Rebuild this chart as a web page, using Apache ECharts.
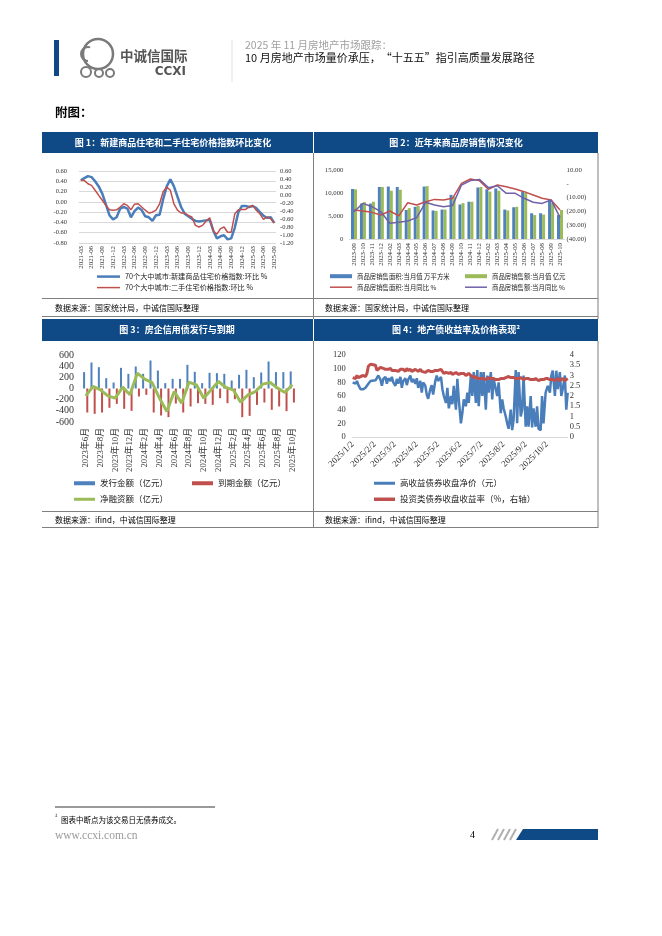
<!DOCTYPE html>
<html><head><meta charset="utf-8">
<script src="https://cdn.jsdelivr.net/npm/echarts@6/dist/echarts.min.js"></script>
<style>html,body{margin:0;padding:0;background:#fff}#c{width:662px;height:936px}</style>
</head><body><div id="c"></div>
<script>
// ---------- Chart 1 data ----------
const c1Months = ['2021-03','2021-04','2021-05','2021-06','2021-07','2021-08','2021-09','2021-10','2021-11','2021-12',
'2022-01','2022-02','2022-03','2022-04','2022-05','2022-06','2022-07','2022-08','2022-09','2022-10','2022-11','2022-12',
'2023-01','2023-02','2023-03','2023-04','2023-05','2023-06','2023-07','2023-08','2023-09','2023-10','2023-11','2023-12',
'2024-01','2024-02','2024-03','2024-04','2024-05','2024-06','2024-07','2024-08','2024-09','2024-10','2024-11','2024-12',
'2025-01','2025-02','2025-03','2025-04','2025-05','2025-06','2025-07','2025-08','2025-09'];
const c1New = [0.42,0.46,0.50,0.48,0.40,0.30,0.16,-0.05,-0.26,-0.34,
-0.30,-0.13,-0.10,-0.13,-0.30,-0.18,-0.11,-0.16,-0.28,-0.30,-0.37,-0.26,
-0.25,0.05,0.30,0.44,0.30,0.10,-0.10,-0.23,-0.28,-0.33,-0.37,-0.38,
-0.37,-0.36,-0.35,-0.56,-0.71,-0.67,-0.65,-0.73,-0.71,-0.50,-0.20,-0.08,
-0.08,-0.10,-0.08,-0.12,-0.20,-0.27,-0.31,-0.30,-0.41];
const c1Old = [0.37,0.36,0.28,0.24,0.12,-0.01,-0.13,-0.26,-0.37,-0.38,
-0.37,-0.30,-0.22,-0.26,-0.37,-0.23,-0.22,-0.30,-0.38,-0.45,-0.43,-0.38,
-0.22,0.08,0.20,0.12,-0.22,-0.38,-0.45,-0.45,-0.51,-0.55,-0.76,-0.80,
-0.76,-0.65,-0.57,-0.90,-0.98,-0.84,-0.80,-0.93,-0.93,-0.47,-0.37,-0.36,
-0.36,-0.30,-0.26,-0.38,-0.47,-0.61,-0.55,-0.59,-0.70];
const c1Names = ['70个大中城市:新建商品住宅价格指数:环比 %','70个大中城市:二手住宅价格指数:环比 %'];

// ---------- Chart 2 data ----------
const c2Months = ['2023-09','2023-10','2023-11','2023-12','2024-02','2024-03','2024-04','2024-05','2024-06','2024-07','2024-08','2024-09',
'2024-10','2024-11','2024-12','2025-02','2025-03','2025-04','2025-05','2025-06','2025-07','2025-08','2025-09','2025-10'];
const c2Area = [10875,7700,7700,11300,11400,11300,6300,7000,11400,6200,6400,9600,7500,8100,11200,10800,11000,6400,6900,10300,5600,5600,8600,5200];
const c2Sales = [10800,8000,8100,11300,10500,10700,6700,7200,11500,6100,6400,9200,7800,8100,11300,10300,10500,6200,7000,10000,5200,5300,7800,6300];
const c2AreaYoy = [-19.0,-19.7,-20.7,-22.6,-19.7,-23.3,-13.7,-15.4,-13.0,-11.3,-11.7,-10.5,0.3,3.5,2.3,-4.0,-0.9,-2.1,-3.8,-5.7,-8.1,-10.5,-11.7,-19.0];
const c2SalesYoy = [-20.2,-14.2,-16.6,-20.2,-28.6,-27.9,-27.0,-24.5,-13.4,-15.4,-16.6,-15.8,-0.9,2.3,3.2,-2.8,-1.4,-6.9,-6.9,-10.5,-13.4,-14.2,-11.7,-24.3];
const c2Names = ['商品房销售面积:当月值 万平方米','商品房销售额:当月值 亿元','商品房销售面积:当月同比 %','商品房销售额:当月同比 %'];

// ---------- Chart 3 data ----------
const c3Months = ['2023年6月','2023年7月','2023年8月','2023年9月','2023年10月','2023年11月','2023年12月',
'2024年1月','2024年2月','2024年3月','2024年4月','2024年5月','2024年6月','2024年7月','2024年8月','2024年9月','2024年10月','2024年11月','2024年12月',
'2025年1月','2025年2月','2025年3月','2025年4月','2025年5月','2025年6月','2025年7月','2025年8月','2025年9月','2025年10月'];
const c3Issue = [293,466,382,185,107,370,263,394,263,501,322,96,173,173,424,299,96,281,275,263,143,245,334,203,287,484,293,293,305];
const c3Mature = [-430,-454,-430,-346,-275,-364,-400,-143,-113,-430,-484,-513,-269,-430,-322,-263,-275,-293,-173,-263,-191,-513,-490,-293,-251,-382,-322,-406,-251];
const c3Net = [-131,36,-24,-131,-173,24,-113,275,167,107,-173,-412,-54,-263,113,66,-173,-24,125,18,-24,-245,-113,-54,78,107,6,-72,66];
const c3Names = ['发行金额（亿元）','到期金额（亿元）','净融资额（亿元）'];

// ---------- Chart 4 data ----------
const c4Year = 2025;
const c4Dates = ['1/2','1/3','1/6','1/8','1/10','1/13','1/15','1/17','1/20','1/22','1/24','1/27',
'2/3','2/5','2/7','2/10','2/12','2/14','2/17','2/19','2/21','2/24','2/26','2/28',
'3/3','3/5','3/7','3/10','3/12','3/14','3/17','3/19','3/21','3/24','3/26','3/28','3/31',
'4/2','4/4','4/7','4/9','4/11','4/14','4/16','4/18','4/21','4/23','4/25','4/28','4/30',
'5/2','5/6','5/8','5/10','5/13','5/15','5/17','5/20','5/22','5/24','5/27','5/29','5/31',
'6/3','6/5','6/7','6/10','6/12','6/14','6/17','6/19','6/21','6/24','6/26','6/28',
'7/1','7/3','7/5','7/8','7/10','7/12','7/15','7/17','7/19','7/22','7/24','7/26','7/29','7/31',
'8/2','8/5','8/7','8/9','8/12','8/14','8/16','8/19','8/21','8/23','8/26','8/28','8/30',
'9/2','9/4','9/6','9/9','9/11','9/13','9/16','9/18','9/20','9/23','9/25','9/27','9/30',
'10/3','10/6','10/8','10/10','10/13','10/15','10/17','10/20','10/22','10/24','10/27','10/29','10/31'];
const c4Price = [80,82,78,82,76,70,72,70,72,75,78,82,
83,84,90,84,75,85,88,78,86,82,88,80,
75,85,78,88,72,82,86,76,84,90,80,85,78,
86,72,82,65,80,75,62,56,70,76,62,82,90,
82,88,70,60,50,72,42,60,48,75,40,85,55,
20,35,55,45,65,50,90,60,95,50,98,45,
95,60,95,40,90,65,95,55,85,70,60,80,35,55,
42,30,20,12,40,10,25,98,20,95,30,40,90,
15,45,15,60,14,42,15,45,12,10,60,20,65,
75,65,90,97,60,97,70,95,60,70,90,40,65];
const c4Yield = [2.9,2.95,2.85,3.0,2.9,2.95,2.9,3.0,2.95,3.1,3.45,3.55,
3.5,3.25,3.3,3.4,3.45,3.35,3.3,3.25,3.3,3.35,3.25,3.3,
3.25,3.3,3.2,3.3,3.25,3.3,3.2,3.35,3.25,3.3,3.2,3.25,3.3,
3.25,3.2,3.3,3.2,3.25,3.15,3.2,3.25,3.2,3.15,3.2,3.25,3.2,
3.25,3.3,3.2,3.1,3.15,3.2,3.1,3.15,3.05,3.1,3.15,3.1,3.05,
3.1,3.05,3.1,3.0,3.05,3.1,3.0,2.95,2.9,2.95,2.85,2.9,
2.85,2.9,2.85,2.8,2.85,2.9,2.85,2.8,2.85,2.8,2.85,2.8,2.85,2.8,
2.85,2.9,2.85,2.95,2.9,2.85,2.9,2.85,2.8,2.85,2.9,2.85,2.8,
2.85,2.8,2.85,2.8,2.75,2.8,2.85,2.8,2.75,2.8,2.85,2.8,2.85,
2.85,2.8,2.85,2.8,2.75,2.8,2.85,2.75,2.8,2.85,2.75,2.8,2.85];
const c4TickDates = ['1/2','2/2','3/2','4/2','5/2','6/2','7/2','8/2','9/2','10/2'];
const c4Range = ['1/2','10/31'];
const c4Names = ['高收益债券收盘净价（元）','投资类债券收盘收益率（%，右轴）'];

// ---------- helpers ----------
const SERIF = '"Liberation Serif","Noto Sans CJK SC",serif';
const CJK = '"Noto Sans CJK SC","Noto Sans",sans-serif';
const DAY = 86400000;
function dnum(md){ const p = md.split('/'); return Math.round((Date.UTC(c4Year, +p[0]-1, +p[1]) - Date.UTC(c4Year,0,1)) / DAY); }
function dlabel(n){ const d = new Date(Date.UTC(c4Year,0,1) + n*DAY); return d.getUTCFullYear()+'/'+(d.getUTCMonth()+1)+'/'+d.getUTCDate(); }
const BAND = '#0f4a86';
const BLUE = '#4a7ebb', RED = '#c0504d', GREEN = '#9bbb59', PURPLE = '#7060a8';

function legend(name, left, top, w, h, fs){
  return {data:[{name:name, icon:'rect'}], left:left, top:top, itemWidth:w, itemHeight:h, padding:0,
    selectedMode:false, textStyle:{fontSize:fs, fontFamily:CJK, color:'#222'}};
}
function txt(t, x, y, size, opts){
  opts = opts || {};
  return {type:'text', silent:true, style:{text:t, x:x, y:y,
    font:(opts.weight||'normal')+' '+size+'px '+(opts.family||CJK),
    fill:opts.fill||'#000', textAlign:opts.align||'left', textVerticalAlign:'middle'}};
}
function line(x1,y1,x2,y2,color,w){ return {type:'line', silent:true, shape:{x1:x1,y1:y1,x2:x2,y2:y2}, style:{stroke:color||'#7f7f7f', lineWidth:w||1}}; }

const chart = echarts.init(document.getElementById('c'), null, {renderer:'canvas'});

const graphics = [
  {type:'rect', silent:true, shape:{x:54, y:40, width:5, height:36}, style:{fill:BAND}},
  // simplified elephant logo
  {type:'circle', silent:true, shape:{cx:98, cy:54, r:15}, style:{fill:'none', stroke:'#7a7a7a', lineWidth:2.5}},
  {type:'arc', silent:true, shape:{cx:88, cy:54, r:7, startAngle:Math.PI*0.5, endAngle:Math.PI*1.6}, style:{fill:'none', stroke:'#7a7a7a', lineWidth:2}},
  {type:'circle', silent:true, shape:{cx:86, cy:72, r:5}, style:{fill:'none', stroke:'#7a7a7a', lineWidth:2}},
  {type:'circle', silent:true, shape:{cx:99, cy:73, r:4}, style:{fill:'none', stroke:'#7a7a7a', lineWidth:2}},
  {type:'circle', silent:true, shape:{cx:110, cy:73, r:4}, style:{fill:'none', stroke:'#7a7a7a', lineWidth:2}},
  txt('中诚信国际', 120, 56, 13.5, {weight:'bold', fill:'#555'}),
  txt('CCXI', 186, 72, 12, {weight:'bold', fill:'#555', align:'right', family:'"DejaVu Sans",sans-serif'}),
  line(232, 40, 232, 82, '#e0e0e0', 1),
  txt('2025 年 11 月房地产市场跟踪：', 245, 45, 10.5, {fill:'#a0a0a0'}),
  txt('10 月房地产市场量价承压，“十五五”指引高质量发展路径', 245, 58, 11, {fill:'#111'}),
  txt('附图：', 55, 112, 12.5, {weight:'bold'}),
  {type:'rect', silent:true, shape:{x:42, y:132, width:271, height:21}, style:{fill:BAND}},
  {type:'rect', silent:true, shape:{x:314, y:132, width:284, height:21}, style:{fill:BAND}},
  txt('图 1：新建商品住宅和二手住宅价格指数环比变化', 173, 143, 9, {weight:'bold', fill:'#fff', align:'center'}),
  txt('图 2：近年来商品房销售情况变化', 456, 143, 9, {weight:'bold', fill:'#fff', align:'center'}),
  {type:'rect', silent:true, shape:{x:42, y:319, width:271, height:22}, style:{fill:BAND}},
  {type:'rect', silent:true, shape:{x:314, y:319, width:284, height:22}, style:{fill:BAND}},
  txt('图 3：房企信用债发行与到期', 177, 330, 9, {weight:'bold', fill:'#fff', align:'center'}),
  txt('图 4：地产债收益率及价格表现²', 456, 330, 9, {weight:'bold', fill:'#fff', align:'center'}),
  line(313.5, 153, 313.5, 319, '#7f7f7f', 1),
  line(313.5, 341, 313.5, 528, '#7f7f7f', 1),
  line(598, 153, 598, 319, '#7f7f7f', 1),
  line(598, 341, 598, 528, '#7f7f7f', 1),
  line(42, 298.5, 598, 298.5, '#7f7f7f', 1),
  line(42, 316.5, 598, 316.5, '#7f7f7f', 1),
  line(42, 511.5, 598, 511.5, '#7f7f7f', 1),
  line(42, 527.5, 598, 527.5, '#7f7f7f', 1),
  txt('数据来源：国家统计局，中诚信国际整理', 55, 307.5, 8),
  txt('数据来源：国家统计局，中诚信国际整理', 325, 307.5, 8),
  txt('数据来源：ifind，中诚信国际整理', 55, 519.5, 8),
  txt('数据来源：ifind，中诚信国际整理', 325, 519.5, 8),
  line(55, 807, 215, 807, '#000', 0.8),
  txt('²', 55, 817, 6),
  txt('图表中断点为该交易日无债券成交。', 61, 820, 7.5),
  txt('www.ccxi.com.cn', 55, 836, 11.5, {fill:'#9a9a9a', family:SERIF}),
  txt('4', 470, 835, 10, {family:SERIF}),
  line(492, 840, 498, 829, '#b0b0b0', 2),
  line(498, 840, 504, 829, '#b0b0b0', 2),
  line(504, 840, 510, 829, '#b0b0b0', 2),
  line(510, 840, 516, 829, '#b0b0b0', 2),
  {type:'polygon', silent:true, shape:{points:[[516,840],[523,829],[598,829],[598,840]]}, style:{fill:BAND}}
];

const axisLab = (fs, fam) => ({fontSize:fs, fontFamily:fam||SERIF, color:'#333'});
const noLine = {show:false};

const option = {
  animation:false,
  backgroundColor:'#fff',
  grid:[
    {left:79, top:171, width:197, height:72},
    {left:349.5, top:170, width:215, height:69},
    {left:82, top:355, width:214, height:67},
    {left:352.7, top:355, width:215, height:82}
  ],
  xAxis:[
    {type:'category', gridIndex:0, data:c1Months, boundaryGap:true,
      axisLine:{lineStyle:{color:'#d9d9d9'}}, axisTick:{show:false},
      axisLabel:Object.assign({rotate:90, interval:2, margin:3}, axisLab(6.8))},
    {type:'category', gridIndex:1, data:c2Months, boundaryGap:true,
      axisLine:{lineStyle:{color:'#d9d9d9'}}, axisTick:{show:false},
      axisLabel:Object.assign({rotate:90, interval:0, margin:4}, axisLab(6.8))},
    {type:'category', gridIndex:2, data:c3Months, boundaryGap:true,
      axisLine:noLine, axisTick:{show:false},
      axisLabel:Object.assign({rotate:90, interval:1, margin:6}, axisLab(8.8))},
    {type:'value', gridIndex:3, min:dnum(c4Range[0]), max:dnum(c4Range[1]),
      axisLine:{lineStyle:{color:'#d9d9d9'}}, axisTick:{show:false}, splitLine:{show:false},
      axisLabel:Object.assign({rotate:45, margin:6, customValues:c4TickDates.map(dnum), hideOverlap:false,
        formatter:function(v){return dlabel(v);}}, axisLab(9))}
  ],
  yAxis:[
    {type:'value', gridIndex:0, min:-0.8, max:0.6, interval:0.2, axisLine:noLine, axisTick:noLine,
      splitLine:{lineStyle:{color:'#d9d9d9'}},
      axisLabel:Object.assign({margin:12, formatter:v=>v.toFixed(2)}, axisLab(6.5))},
    {type:'value', gridIndex:0, min:-1.2, max:0.6, interval:0.2, axisLine:noLine, axisTick:noLine,
      splitLine:{show:false}, position:'right',
      axisLabel:Object.assign({margin:4, formatter:v=>v.toFixed(2)}, axisLab(6.5))},
    {type:'value', gridIndex:1, min:0, max:15000, interval:5000, axisLine:noLine, axisTick:noLine,
      splitLine:{show:false},
      axisLabel:Object.assign({margin:6, formatter:v=>v.toLocaleString('en-US')}, axisLab(6.8))},
    {type:'value', gridIndex:1, min:-40, max:10, interval:10, axisLine:noLine, axisTick:noLine,
      splitLine:{show:false}, position:'right',
      axisLabel:Object.assign({margin:2, formatter:v=> v>0 ? v.toFixed(2) : (v===0 ? '-' : '('+Math.abs(v).toFixed(2)+')')}, axisLab(6.8))},
    {type:'value', gridIndex:2, min:-600, max:600, interval:200, axisLine:noLine, axisTick:noLine,
      splitLine:{show:false},
      axisLabel:Object.assign({margin:8}, axisLab(10))},
    {type:'value', gridIndex:3, min:0, max:120, interval:20, axisLine:noLine, axisTick:noLine,
      splitLine:{show:false},
      axisLabel:Object.assign({margin:7}, axisLab(8.5))},
    {type:'value', gridIndex:3, min:0, max:4, interval:0.5, axisLine:noLine, axisTick:noLine,
      splitLine:{show:false}, position:'right',
      axisLabel:Object.assign({margin:2}, axisLab(8.5))}
  ],
  legend:[
    legend(c1Names[0], 97, 273, 23, 2.5, 7.2),
    legend(c1Names[1], 97, 284, 23, 1.5, 7.2),
    legend(c2Names[0], 330, 273, 22, 4, 6.4),
    legend(c2Names[1], 465, 273, 22, 4, 6.4),
    legend(c2Names[2], 330, 284, 22, 1.5, 6.4),
    legend(c2Names[3], 465, 284, 22, 1.5, 6.4),
    legend(c3Names[0], 74, 479, 21, 4, 8.5),
    legend(c3Names[1], 192, 479, 21, 4, 8.5),
    legend(c3Names[2], 74, 495, 21, 3, 8.5),
    legend(c4Names[0], 374, 479, 21, 3, 8.5),
    legend(c4Names[1], 374, 495, 21, 3.5, 8.5)
  ],
  series:[
    {name:c1Names[0], type:'line', xAxisIndex:0, yAxisIndex:0, data:c1New, symbol:'none',
      lineStyle:{color:BLUE, width:2.5}, itemStyle:{color:BLUE}},
    {name:c1Names[1], type:'line', xAxisIndex:0, yAxisIndex:1, data:c1Old, symbol:'none',
      lineStyle:{color:RED, width:1.5}, itemStyle:{color:RED}},
    {name:c2Names[0], type:'bar', xAxisIndex:1, yAxisIndex:2, data:c2Area, barWidth:3, barGap:'0%',
      itemStyle:{color:'#4f81bd'}},
    {name:c2Names[1], type:'bar', xAxisIndex:1, yAxisIndex:2, data:c2Sales, barWidth:3, barGap:'0%',
      itemStyle:{color:GREEN}},
    {name:c2Names[2], type:'line', xAxisIndex:1, yAxisIndex:3, data:c2AreaYoy, symbol:'none',
      lineStyle:{color:RED, width:1.5}, itemStyle:{color:RED}},
    {name:c2Names[3], type:'line', xAxisIndex:1, yAxisIndex:3, data:c2SalesYoy, symbol:'none',
      lineStyle:{color:PURPLE, width:1.5}, itemStyle:{color:PURPLE}},
    {name:c3Names[0], type:'bar', xAxisIndex:2, yAxisIndex:4, data:c3Issue, barWidth:2, barGap:'60%',
      itemStyle:{color:'#4f81bd'}},
    {name:c3Names[1], type:'bar', xAxisIndex:2, yAxisIndex:4, data:c3Mature, barWidth:2, barGap:'60%',
      itemStyle:{color:RED}},
    {name:c3Names[2], type:'line', xAxisIndex:2, yAxisIndex:4, data:c3Net, symbol:'none',
      lineStyle:{color:GREEN, width:3}, itemStyle:{color:GREEN}},
    {name:c4Names[0], type:'line', xAxisIndex:3, yAxisIndex:5, symbol:'none',
      data:c4Dates.map((d,i)=>[dnum(d), c4Price[i]]),
      lineStyle:{color:BLUE, width:2.5}, itemStyle:{color:BLUE}},
    {name:c4Names[1], type:'line', xAxisIndex:3, yAxisIndex:6, symbol:'none',
      data:c4Dates.map((d,i)=>[dnum(d), c4Yield[i]]),
      lineStyle:{color:RED, width:3}, itemStyle:{color:RED}}
  ],
  graphic:graphics
};
chart.setOption(option);
</script>
</body></html>
